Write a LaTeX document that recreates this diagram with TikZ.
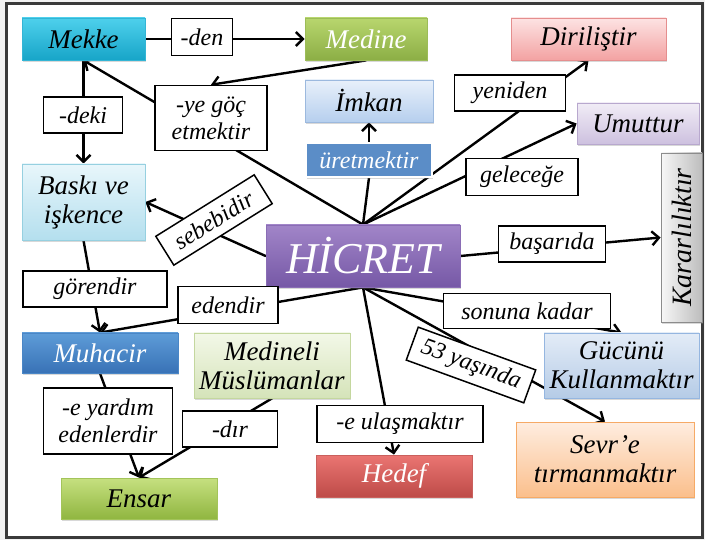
\documentclass[tikz,border=0pt]{standalone}
\usepackage{fontspec}
\setmainfont{Liberation Serif}
\usetikzlibrary{arrows.meta,shadows,backgrounds}
\definecolor{pagebg}{HTML}{F2F2F2}
\definecolor{framec}{HTML}{3A3A3A}
\definecolor{mekT}{HTML}{4ED0EC}\definecolor{mekB}{HTML}{17A5C8}\definecolor{mekD}{HTML}{33B5D5}
\definecolor{medT}{HTML}{B8D66E}\definecolor{medB}{HTML}{8CAE45}\definecolor{medD}{HTML}{9CBC58}
\definecolor{imkT}{HTML}{E8F0FA}\definecolor{imkB}{HTML}{B6CFEE}\definecolor{imkD}{HTML}{9CB9DE}
\definecolor{uretF}{HTML}{5B8DC7}
\definecolor{dirT}{HTML}{FDE3E3}\definecolor{dirB}{HTML}{F3A2A2}\definecolor{dirD}{HTML}{E58E8E}
\definecolor{umuT}{HTML}{F1ECF6}\definecolor{umuB}{HTML}{CDC1DF}\definecolor{umuD}{HTML}{B8A8CE}
\definecolor{hicT}{HTML}{A185C8}\definecolor{hicB}{HTML}{7658A6}\definecolor{hicD}{HTML}{8A6DB5}
\definecolor{karL}{HTML}{F7F7F7}\definecolor{karR}{HTML}{BDBDBD}\definecolor{karD}{HTML}{8C8C8C}
\definecolor{gucT}{HTML}{E3ECF7}\definecolor{gucB}{HTML}{B5CBE6}\definecolor{gucD}{HTML}{95B6E0}
\definecolor{sevT}{HTML}{FEEDE0}\definecolor{sevB}{HTML}{FBBF8C}\definecolor{sevD}{HTML}{F6AA66}
\definecolor{hedT}{HTML}{EA7572}\definecolor{hedB}{HTML}{BE4B48}\definecolor{hedD}{HTML}{C9605D}
\definecolor{basT}{HTML}{E8F6FB}\definecolor{basB}{HTML}{B4DFEE}\definecolor{basD}{HTML}{96D0E0}
\definecolor{muhT}{HTML}{5E9CD8}\definecolor{muhB}{HTML}{3872B6}\definecolor{muhD}{HTML}{4A86C6}
\definecolor{mliT}{HTML}{F3F8E8}\definecolor{mliB}{HTML}{D5E3B9}\definecolor{mliD}{HTML}{C4D79E}
\definecolor{ensT}{HTML}{C6E080}\definecolor{ensB}{HTML}{90B640}\definecolor{ensD}{HTML}{A3C45A}
\begin{document}
\begin{tikzpicture}[x=1pt,y=-1pt,
  box/.style={draw, line width=0.8pt, inner sep=0pt, align=center,
    font=\itshape\fontsize{27}{29}\selectfont,
    drop shadow={opacity=0.3,shadow xshift=0.8pt,shadow yshift=-1.6pt}},
  lbl/.style={draw=black, fill=white, line width=1.5pt, inner sep=0pt, align=center,
    font=\itshape\fontsize{24}{27}\selectfont},
  conn/.style={line width=2.4pt, line cap=round},
  arr/.style={conn, -{Straight Barb[length=7pt,width=14pt]}},
  sz/.style 2 args={minimum width=#1pt, minimum height=#2pt},
  cmekke/.style={top color=mekT, bottom color=mekB, draw=mekD},
  cmedine/.style={top color=medT, bottom color=medB, draw=medD, text=white},
  cimkan/.style={top color=imkT, bottom color=imkB, draw=imkD},
  curet/.style={fill=uretF, draw=white, line width=1.5pt, text=white},
  cdiril/.style={top color=dirT, bottom color=dirB, draw=dirD},
  cumut/.style={top color=umuT, bottom color=umuB, draw=umuD},
  chicret/.style={top color=hicT, bottom color=hicB, draw=hicD, text=white},
  ckarar/.style={left color=karL, right color=karR, draw=karD},
  cguc/.style={top color=gucT, bottom color=gucB, draw=gucD},
  csevr/.style={top color=sevT, bottom color=sevB, draw=sevD},
  chedef/.style={top color=hedT, bottom color=hedB, draw=hedD, text=white},
  cbaski/.style={top color=basT, bottom color=basB, draw=basD},
  cmuhac/.style={top color=muhT, bottom color=muhB, draw=muhD, text=white},
  cmedli/.style={top color=mliT, bottom color=mliB, draw=mliD},
  censar/.style={top color=ensT, bottom color=ensB, draw=ensD}]
\useasboundingbox (0,0) rectangle (705,540);

% colored nodes
\node[box,cmekke,sz={123}{42}] (mekke) at (83.5,39) {Mekke};
\node[box,cmedine,sz={122}{42}] (medine) at (366,39) {Medine};
\node[box,cimkan,sz={128}{42}] (imkan) at (369,101) {İmkan};
\node[box,curet,sz={126}{34},font=\itshape\fontsize{24}{26}\selectfont] (uret) at (369,160) {üretmektir};
\node[box,cdiril,sz={155}{42}] (dirilis) at (588.5,39) {Diriliştir};
\node[box,cumut,sz={122}{41}] (umut) at (638,123.5) {Umuttur};
\node[box,chicret,sz={194}{62},font=\itshape\fontsize{44}{46}\selectfont] (hicret) at (363,256) {HİCRET};
\node[box,ckarar,sz={41}{169},font=\itshape\fontsize{28}{30}\selectfont] (karar) at (681.5,237.5) {\rotatebox{90}{Kararlılıktır}};
\node[box,cguc,sz={155}{65}] (gucunu) at (621.5,365.5) {Gücünü\\Kullanmaktır};
\node[box,csevr,sz={178}{75}] (sevr) at (605,459.5) {Sevr’e\\tırmanmaktır};
\node[box,chedef,sz={156}{42}] (hedef) at (394,476) {Hedef};
\node[box,cbaski,sz={123}{76}] (baski) at (83.5,202) {Baskı ve\\işkence};
\node[box,cmuhac,sz={156}{40}] (muhacir) at (100,353) {Muhacir};
\node[box,cmedli,sz={156}{65}] (medineli) at (272,365.5) {Medineli\\Müslümanlar};
\node[box,censar,sz={156}{41}] (ensar) at (139,498.5) {Ensar};

% connector labels
\node[lbl,sz={61}{37}] (lden) at (202,37) {-den};
\node[lbl,sz={112}{65}] (lyegoc) at (211,118) {-ye göç\\etmektir};
\node[lbl,sz={79}{36}] (ldeki) at (83,115) {-deki};
\node[lbl,sz={111}{36}] (lyeniden) at (510,93) {yeniden};
\node[lbl,sz={112}{37}] (lgelecege) at (522,177) {geleceğe};
\node[lbl,sz={107}{36}] (lbasarida) at (552,244) {başarıda};
\node[lbl,sz={167}{35}] (lsonuna) at (527,311) {sonuna kadar};
\node[lbl,sz={125}{35},rotate=-20] (lyas) at (471,365) {53 yaşında};
\node[lbl,sz={166}{37}] (lulas) at (400,424) {-e ulaşmaktır};
\node[lbl,sz={116}{34},rotate=32] (lsebeb) at (214,220) {sebebidir};
\node[lbl,sz={144}{36}] (lgoren) at (95,289) {görendir};
\node[lbl,sz={100}{37}] (leden) at (228,305) {edendir};
\node[lbl,sz={129}{66}] (lyardim) at (108,421) {-e yardım\\edenlerdir};
\node[lbl,sz={95}{36}] (ldir) at (230,429) {-dır};

\begin{scope}[on background layer]
  \fill[pagebg] (0,0) rectangle (705,540);
  \draw[fill=white, draw=framec, line width=3pt] (6.5,3.5) rectangle (702.5,537);
  \draw[arr] (mekke) -- (medine);
  \draw[arr] (medine.south) -- (lyegoc.north);
  \draw[arr] (hicret.north) -- (mekke.south);
  \draw[arr] (mekke.south) -- (baski.north);
  \draw[conn] (hicret.north) -- (uret.south);
  \draw[arr] (uret.north) -- (imkan.south);
  \draw[arr] (hicret.north) -- (dirilis.south);
  \draw[arr] (hicret.north) -- (umut.west);
  \draw[arr] (hicret.east) -- (karar.west);
  \draw[arr] (hicret.south) -- (gucunu.north);
  \draw[arr] (hicret.south) -- (sevr.north);
  \draw[arr] (hicret.south) -- (hedef.north);
  \draw[arr] (hicret.west) -- (baski.east);
  \draw[arr] (hicret.south) -- (muhacir.north);
  \draw[arr] (baski.south) -- (muhacir.north);
  \draw[arr] (muhacir.south) -- (ensar.north);
  \draw[arr] (medineli.south) -- (ensar.north);
\end{scope}
\end{tikzpicture}
\end{document}
